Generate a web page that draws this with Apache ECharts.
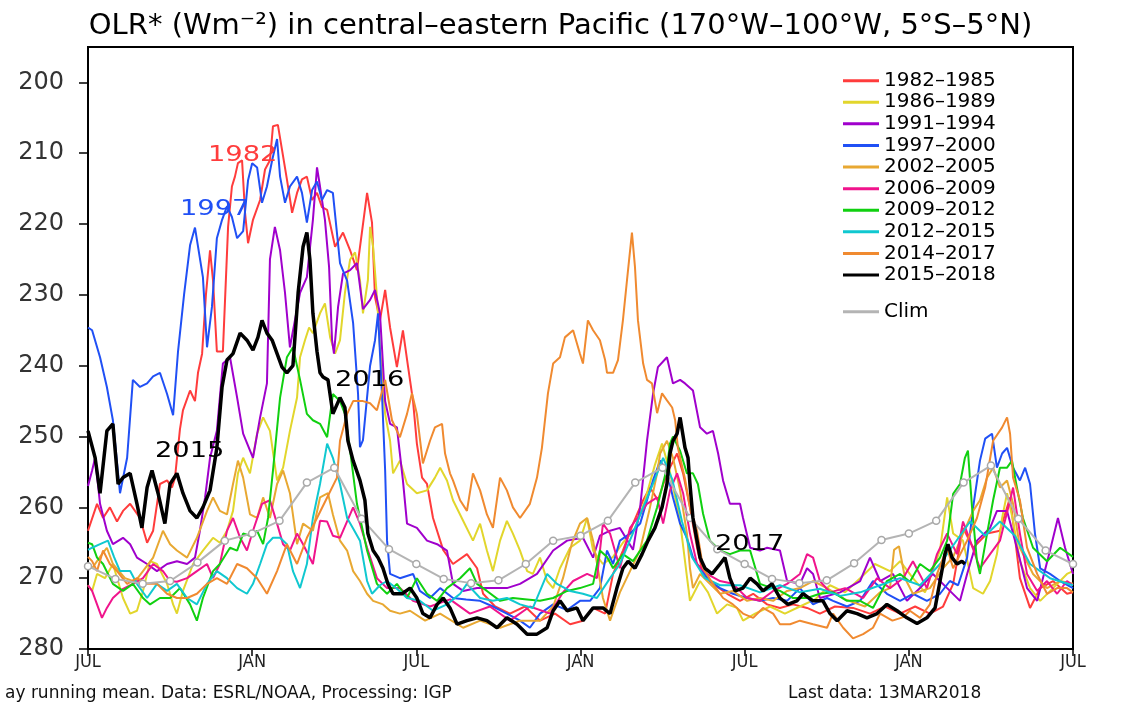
<!DOCTYPE html>
<html><head><meta charset="utf-8">
<script src="https://cdn.jsdelivr.net/npm/echarts@6/dist/echarts.min.js"></script>
<style>html,body{margin:0;padding:0;background:#fff}#c{width:1121px;height:702px}</style>
</head><body><div id="c"></div>
<script>
const xTickLabels = ['JUL','JAN','JUL','JAN','JUL','JAN','JUL'];
const yTicks = [200,210,220,230,240,250,260,270,280];
const seriesNames = ['1982–1985','1986–1989','1991–1994','1997–2000','2002–2005','2006–2009','2009–2012','2012–2015','2014–2017','2015–2018'];

const d1982 = [[0,263.3],[0.33,259.5],[0.55,261.5],[0.8,260],[1.06,262],[1.28,260.5],[1.54,259.5],[1.9,261.5],[2.16,265],[2.38,263.3],[2.63,256.7],[2.89,256.2],[3.07,257.2],[3.18,255.8],[3.36,249],[3.47,246.3],[3.73,243.5],[3.91,245],[4.02,241],[4.17,238.3],[4.31,230],[4.46,223.7],[4.57,228],[4.71,238],[4.93,238],[5.12,220.4],[5.26,214.7],[5.37,213.3],[5.48,211.4],[5.63,211],[5.74,218.4],[5.85,222.7],[6.03,219.4],[6.29,216.6],[6.47,212.3],[6.65,211],[6.76,206.2],[6.94,206],[7.09,209.5],[7.27,213.7],[7.46,218.4],[7.64,215.6],[7.82,213.7],[8.0,213.3],[8.19,216.6],[8.37,215.6],[8.55,217.6],[8.74,218],[9.03,223.2],[9.32,221.2],[9.58,223.7],[9.83,226.5],[10.01,221.2],[10.2,215.6],[10.38,219.8],[10.49,230.3],[10.67,233.6],[10.86,229.3],[11.04,234.6],[11.29,240.2],[11.51,235],[11.7,240.2],[11.88,245],[12.02,251],[12.21,255.8],[12.39,256.7],[12.61,261.5],[12.98,266],[13.34,268],[13.85,266.6],[14.22,268.6],[14.44,272.2],[14.88,274],[15.42,275],[15.97,274],[16.52,276],[17.07,275],[17.62,276.5],[18.09,276],[18.46,274.2],[18.9,275],[19.19,269.4],[19.55,266.1],[19.92,262.3],[20.29,259],[20.54,257.2],[20.83,259],[21.16,255.2],[21.53,252.4],[21.75,255.2],[22.0,260],[22.26,265.7],[22.48,269.4],[22.84,270.8],[23.36,272.2],[23.83,273.2],[24.31,272.2],[24.82,273.7],[25.29,274.2],[25.77,273.7],[26.28,274.2],[26.75,275],[27.3,274],[27.96,274.2],[28.58,275],[29.13,274],[29.68,275],[30.23,274],[30.77,275],[31.25,274],[31.62,270.8],[31.98,262.9],[32.35,265.7],[32.86,263.7],[33.33,263.3],[33.7,258.6],[33.88,264.3],[34.06,270],[34.43,274.2],[34.8,271.4],[35.27,270.4],[35.78,272.2],[36,272]];

const d1986 = [[0,271],[0.15,271.8],[0.33,269.4],[0.62,270],[0.91,268],[1.28,272.8],[1.54,275],[1.79,274.6],[2.01,271.8],[2.27,267.6],[2.52,268],[2.89,270.8],[3.11,273.7],[3.25,275],[3.47,271.8],[3.84,268],[4.2,266.1],[4.57,264.3],[4.82,265],[5.08,263.3],[5.3,260.5],[5.48,255.2],[5.67,253],[5.92,255.2],[6.18,249.6],[6.4,247.3],[6.65,249.2],[6.91,256.2],[7.13,254.4],[7.38,249.2],[7.64,244.5],[7.75,238.8],[7.93,236.4],[8.08,234.6],[8.22,235.4],[8.48,232.6],[8.66,231.2],[8.85,236],[9.03,238.3],[9.21,236.4],[9.39,229.7],[9.58,225],[9.76,224],[9.94,227.9],[10.05,232.6],[10.23,227.9],[10.31,220.4],[10.42,223.2],[10.56,230.3],[10.67,237.4],[10.86,246.8],[11.04,250.6],[11.15,255.2],[11.4,253.4],[11.66,256.7],[12.02,258],[12.39,257.6],[12.68,255.8],[12.87,254.4],[13.12,256.2],[13.34,259],[13.71,261.9],[14.07,264.7],[14.33,262.3],[14.58,266.1],[14.8,269],[15.06,264.7],[15.31,261.9],[15.53,263.7],[15.79,266.1],[16.05,269],[16.26,269.4],[16.52,267.1],[16.78,270.4],[17.0,271.4],[17.25,268.6],[17.62,265.7],[17.98,264.7],[18.24,261.5],[18.46,266.1],[18.82,268],[19.19,267],[19.55,265],[19.99,263],[20.36,259],[20.72,254],[20.98,251],[21.27,255],[21.64,262],[22.0,273.2],[22.37,270.4],[22.66,272],[22.99,275],[23.36,273.7],[23.72,274.2],[23.94,276],[24.38,275],[24.93,274],[25.47,275],[26.02,274],[26.57,273],[27.12,271],[27.67,272],[28.22,270],[28.76,268],[29.31,269],[29.68,267.6],[30.15,270],[30.59,272],[31.14,266],[31.4,258.6],[31.62,263.7],[31.98,264.7],[32.35,271.4],[32.71,272.2],[32.97,270.4],[33.22,266.6],[33.41,261.5],[33.59,258],[33.81,261.9],[34.06,267.6],[34.43,271.4],[34.8,273.2],[35.27,271.4],[35.78,269.4],[36,269]];

const d1991 = [[0,257],[0.15,254.8],[0.26,253],[0.44,259.5],[0.69,263.3],[0.91,265.2],[1.28,264.3],[1.54,265.2],[1.79,267.1],[2.16,268],[2.52,269],[2.89,268],[3.25,267.6],[3.62,268],[3.91,267.1],[4.09,263.3],[4.28,258.6],[4.46,253],[4.71,249.2],[4.93,239.7],[5.19,238.8],[5.45,244.5],[5.67,249.6],[6.03,253],[6.29,247.3],[6.54,242.5],[6.65,225],[6.83,220.4],[7.02,223.7],[7.2,229.7],[7.38,237.4],[7.75,229.7],[8.0,227.5],[8.22,219.4],[8.37,212],[8.48,214.7],[8.66,219.4],[8.81,226],[8.92,236.4],[8.99,238.3],[9.14,231.7],[9.32,227],[9.58,226.5],[9.83,225.5],[10.05,232],[10.31,230.7],[10.49,229.3],[10.67,232.6],[10.86,245],[11.04,248.2],[11.29,248.7],[11.51,256.2],[11.66,262.3],[12.02,262.9],[12.39,264.7],[12.76,265.2],[13.12,266.1],[13.34,270.8],[13.71,271.8],[14.22,271.4],[14.8,271.4],[15.31,271.4],[15.79,270.8],[16.41,269.4],[17.0,266.1],[17.51,264.7],[18.09,264.3],[18.46,267.1],[18.71,264],[19.08,263.3],[19.44,262.9],[19.92,266],[20.18,260],[20.43,250.6],[20.65,244],[20.83,240.2],[21.16,238.8],[21.38,242.5],[21.64,242],[21.82,242.5],[22.11,243.5],[22.37,248.7],[22.62,249.6],[22.84,249.2],[23.03,252.4],[23.21,256.2],[23.46,259.5],[23.83,259.5],[23.94,261.5],[24.2,265.7],[24.56,266.1],[24.82,265.7],[25.29,266.1],[25.55,270.4],[26.02,270.8],[26.28,268.6],[26.5,269.4],[26.75,272.8],[27.49,272],[28.22,270.4],[28.58,267.1],[28.95,270.4],[29.42,269.4],[29.93,273.2],[30.41,271.4],[30.88,269.4],[31.4,271.4],[31.87,273.2],[32.13,269.4],[32.49,264.7],[32.97,262.9],[33.22,260.5],[33.59,260.5],[33.95,265.7],[34.32,271.4],[34.69,273.2],[35.16,266.1],[35.45,261.5],[35.71,265.7],[36,269.4]];

const d1997 = [[0,234.6],[0.15,235],[0.44,238.8],[0.69,243],[0.91,247.7],[1.17,258],[1.43,253],[1.64,242],[1.9,243],[2.16,242.5],[2.38,241.5],[2.63,241],[2.89,244],[3.11,247],[3.29,238],[3.51,230],[3.73,223],[3.91,220.5],[4.2,227.5],[4.35,237.4],[4.53,231.7],[4.71,222],[4.9,219.4],[5.08,217.5],[5.26,219],[5.45,222],[5.67,221],[5.85,213.8],[6.0,211.4],[6.18,212],[6.36,217],[6.54,214.7],[6.73,211],[6.91,208],[7.02,213.3],[7.2,217],[7.38,214.7],[7.64,213.3],[7.82,215.6],[8.0,219.8],[8.19,215.2],[8.37,214],[8.55,216.6],[8.74,215.2],[8.95,215.6],[9.21,225.5],[9.47,228],[9.69,234],[9.87,244],[9.94,251.5],[10.05,250.5],[10.31,240],[10.49,236.4],[10.6,232.6],[10.75,244.5],[10.86,254.8],[10.93,264.7],[11.04,269.4],[11.4,270],[11.88,269.4],[12.13,271.8],[12.5,272.8],[12.87,271.4],[13.34,272.8],[13.82,273],[14.33,273.2],[14.8,274],[15.31,275],[15.79,276],[16.15,277],[16.52,275],[17.0,273.7],[17.51,274.5],[17.98,273.2],[18.35,273.2],[18.71,271.4],[18.97,266.1],[19.19,268],[19.44,264.7],[19.81,263.7],[20.18,262.3],[20.43,259],[20.65,256.2],[20.91,253.4],[21.16,255],[21.38,258.6],[21.64,262.3],[21.89,264.3],[22.11,267.1],[22.37,268.6],[22.73,270.4],[23.1,271.4],[23.57,272.2],[24.09,272.8],[24.56,273.2],[25.04,272.8],[25.55,273.2],[26.02,271.4],[26.5,273.7],[27.01,272.8],[27.23,273.2],[27.74,274],[28.22,273.2],[28.69,270.4],[29.2,272.2],[29.68,273.2],[30.15,272.2],[30.66,273.2],[31.14,272.2],[31.5,270.4],[31.8,271],[32.13,267.1],[32.35,260],[32.6,253.4],[32.79,250.3],[33.04,249.6],[33.22,254.4],[33.41,252.4],[33.59,251.6],[33.81,254.4],[34.06,256.2],[34.25,254.4],[34.43,256.7],[34.61,263.7],[34.8,268.6],[35.16,269.4],[35.53,270.4],[36,271.4]];

const d2002 = [[0,268],[0.15,268.6],[0.44,267],[0.69,265.7],[0.91,268],[1.35,270],[1.72,270.5],[2.01,269],[2.38,267.1],[2.74,263.3],[3.0,265.2],[3.25,266.1],[3.62,267.1],[3.98,264.3],[4.35,260.5],[4.57,258.6],[4.82,260.5],[5.08,261],[5.3,256.7],[5.48,253.4],[5.67,255.8],[5.92,261],[6.18,261.5],[6.4,258.6],[6.65,261.5],[6.91,256.7],[7.13,254.8],[7.38,258],[7.64,265.2],[7.86,262.3],[8.22,263.3],[8.48,258.6],[8.77,258],[8.95,261],[9.21,264.7],[9.47,266.1],[9.69,269],[9.94,270.4],[10.2,272.2],[10.42,273.2],[10.78,273.7],[11.04,274.6],[11.4,275],[11.77,274.6],[12.32,276],[12.87,275],[13.71,277],[14.33,276],[15.06,277],[15.79,276],[16.52,276],[17.0,274],[17.36,270],[17.69,265],[17.98,262.3],[18.24,261.5],[18.46,264.7],[18.82,272.8],[19.08,276],[19.44,272],[19.81,269],[20.18,266],[20.54,260],[20.8,255.2],[20.91,252.4],[21.16,250.6],[21.38,253],[21.64,257.6],[21.89,263.7],[22.0,268.6],[22.11,271.4],[22.37,269.4],[23.1,272.2],[23.57,271.8],[24.09,273.2],[24.56,272.8],[25.04,273.2],[25.55,271.8],[26.02,271.4],[26.5,270.4],[27.01,271.4],[27.67,273],[28.4,274],[28.95,272],[29.31,271.4],[29.46,266],[29.64,265.5],[29.86,270],[30.15,272.2],[30.77,271.4],[31.25,268.6],[31.62,267],[31.98,263.7],[32.35,260.5],[32.6,259],[32.86,255.8],[33.08,254.4],[33.33,257.2],[33.59,256.2],[33.81,259.5],[34.06,265.7],[34.54,269.4],[35.05,271.4],[35.53,270.4],[36,270.8]];

const d2006 = [[0,271],[0.15,271.8],[0.33,273.7],[0.51,275.6],[0.69,274.2],[0.91,272.8],[1.28,271.5],[1.64,270.8],[2.01,270],[2.38,268],[2.74,269],[3.0,270.4],[3.25,270.5],[3.62,270],[3.98,269],[4.35,268],[4.57,270],[4.82,268],[5.08,263.3],[5.3,261.5],[5.56,264.3],[5.81,266.1],[6.03,263.3],[6.36,259.5],[6.65,259],[6.91,262.3],[7.13,265.2],[7.38,266.1],[7.64,263.7],[7.86,265.2],[8.22,268],[8.48,261.9],[8.74,262],[8.95,264],[9.21,264.3],[9.69,260],[9.94,262.3],[10.2,265.7],[10.56,270],[10.93,271.4],[11.4,271.4],[11.88,273.2],[12.5,274],[13.23,273],[13.96,275],[14.69,274],[15.42,276],[16.15,274],[16.89,275],[17.36,272],[17.73,270.4],[18.24,269.4],[18.6,270],[18.82,262.3],[19.08,263.7],[19.44,268.6],[19.81,262.9],[20.18,261],[20.43,259.5],[20.8,258.6],[21.02,262.3],[21.27,257.6],[21.53,255.2],[21.75,258],[22.0,263.7],[22.26,268],[22.62,269.4],[23.1,270.4],[23.57,270.8],[24.09,272.8],[24.56,273.2],[25.04,271.8],[25.55,270.8],[26.02,269.4],[26.28,266.6],[26.5,267.1],[26.75,270.4],[27.12,272],[27.67,271.4],[28.33,272.8],[28.84,270],[29.31,271.4],[29.79,270],[30.15,267.6],[30.66,271.4],[31.03,266.6],[31.4,263.7],[31.76,266.6],[31.98,262],[32.24,264.7],[32.6,268.6],[32.97,266.6],[33.33,264.7],[33.7,259],[33.81,257.2],[34.06,263.7],[34.32,269.4],[34.69,271.8],[35.05,270.4],[35.42,272.2],[35.78,270.4],[36,271]];

const d2009 = [[0,265],[0.15,265.2],[0.33,267.1],[0.55,268],[0.91,270.8],[1.28,271.8],[1.64,270.8],[2.01,272.8],[2.27,273.7],[2.63,272.8],[3.0,272.8],[3.36,271.4],[3.73,273.7],[3.98,276],[4.2,272.8],[4.57,269],[4.82,268],[5.19,265.7],[5.45,266.1],[5.67,263.7],[5.92,264],[6.18,263.3],[6.4,265.2],[6.58,261.5],[6.76,254.8],[7.02,244.5],[7.27,238.8],[7.49,237.4],[7.75,242],[8.0,246.8],[8.22,247.7],[8.48,248.2],[8.74,250.1],[8.95,244],[9.21,245],[9.39,246.8],[9.58,252],[9.83,259.5],[10.2,266.1],[10.56,270.8],[10.93,272.2],[11.29,270.8],[11.66,272.8],[12.02,270],[12.39,272.2],[12.76,273.2],[13.12,271.4],[13.6,270],[13.96,268.6],[14.22,270.8],[14.58,271.8],[15.06,273.2],[15.53,272.8],[16.05,273],[16.52,273.2],[17.0,272.8],[17.51,271.8],[17.98,271.4],[18.46,270.8],[18.71,266.1],[18.97,267],[19.19,268.6],[19.55,266.6],[19.92,267.6],[20.43,264.7],[20.8,260],[21.16,254.4],[21.27,251],[21.38,250],[21.64,252],[21.89,255.2],[22.11,255.2],[22.29,256.7],[22.48,260.9],[22.73,264.7],[23.1,266.1],[23.46,266.6],[23.83,266.1],[24.2,266.1],[24.56,270.8],[25.29,271.8],[25.77,272.8],[26.28,272.8],[26.75,272.2],[27.23,272],[27.74,273.2],[28.22,273.2],[28.69,274.2],[29.2,270.4],[29.68,269.4],[30.04,270.5],[30.41,268],[30.77,269],[31.14,267.1],[31.4,264.7],[31.62,258.1],[31.87,256.7],[32.05,253],[32.16,252],[32.31,260],[32.49,267.6],[32.6,269.4],[32.86,263.7],[33.08,259],[33.33,254.4],[33.59,254.4],[33.77,253.4],[33.95,257.2],[34.17,261.5],[34.54,265.7],[35.05,267.6],[35.53,265.7],[36,267]];

const d2012 = [[0,266],[0.15,265.7],[0.44,265.2],[0.73,264.7],[0.95,267],[1.17,269],[1.54,269],[1.79,270.8],[2.16,272.8],[2.52,270.8],[2.89,271.8],[3.25,270.8],[3.62,272.8],[3.98,273.7],[4.35,270.8],[4.71,269],[5.08,270],[5.45,271.4],[5.81,272.2],[6.03,270.8],[6.29,268],[6.54,265.2],[6.76,264.3],[7.02,264.3],[7.27,265.2],[7.49,269],[7.75,271.4],[8.0,268],[8.22,261.5],[8.48,256.7],[8.74,251],[8.95,253],[9.21,256.7],[9.47,261.5],[9.69,263],[9.94,264.7],[10.2,270.4],[10.38,272.2],[10.67,271],[10.93,270.4],[11.29,271.5],[11.66,272.8],[12.13,273.2],[12.61,274.6],[13.12,273.7],[13.6,272.2],[13.85,270.8],[14.33,272.8],[14.8,273.2],[15.31,272.8],[15.79,273.7],[16.26,274.2],[16.78,269.4],[17.14,270.8],[17.62,271.8],[18.09,272.2],[18.6,272.8],[19.08,270],[19.44,268],[19.88,264],[20.29,260],[20.72,256],[21.02,253],[21.35,256],[21.71,262],[22.07,267],[22.55,270],[23.1,271],[23.83,271],[24.56,272],[25.29,271],[26.02,272],[26.75,271.5],[27.49,272.5],[28.22,272],[28.95,271],[29.68,270],[30.41,271],[31.14,268],[31.69,265],[32.24,262],[32.79,264],[33.33,262],[33.88,264],[34.43,268],[35.16,270],[36,271]];

const d2014 = [[0,267],[0.15,267.6],[0.33,269],[0.55,266.1],[0.8,268],[1.06,269],[1.43,270.8],[1.79,270],[2.16,270.8],[2.52,270.8],[2.89,272.2],[3.25,272.8],[3.62,272.8],[3.98,272.2],[4.35,270.8],[4.71,270],[5.08,270.8],[5.45,268],[5.81,268.6],[6.18,270],[6.54,272.2],[6.91,269],[7.27,265.2],[7.64,268],[8.0,264.3],[8.37,261.5],[8.74,258.6],[9.1,255.8],[9.21,250.6],[9.47,246.8],[9.69,245],[10.05,245],[10.31,245.3],[10.56,246.3],[10.86,242],[11.11,247.7],[11.4,250.1],[11.66,246.8],[11.84,243.9],[12.02,246.8],[12.24,253.8],[12.5,250.6],[12.68,248.7],[12.94,248.2],[13.05,252.4],[13.23,255.2],[13.34,256.2],[13.6,259],[13.85,260.5],[14.07,255.2],[14.33,257.6],[14.58,261],[14.8,262.9],[15.06,255.8],[15.31,257.6],[15.53,260],[15.79,261.5],[16.15,259.5],[16.41,255.8],[16.59,251.6],[16.81,243.9],[17.0,239.7],[17.25,238.8],[17.43,236],[17.73,235],[17.98,238.3],[18.09,239.7],[18.27,233.6],[18.46,235],[18.71,236.4],[18.9,239.2],[18.97,241],[19.19,241],[19.37,239.2],[19.55,233.6],[19.7,227.9],[19.88,221.2],[19.99,226],[20.1,233.6],[20.29,239.7],[20.43,242],[20.61,242.5],[20.8,246.7],[20.98,243.9],[21.16,244.9],[21.35,245.9],[21.46,247.7],[21.56,251.6],[21.82,256],[22.0,260],[22.26,263.3],[22.48,268.6],[22.84,270.8],[23.21,272.8],[23.57,273.7],[23.94,275],[24.31,275.6],[24.67,274.2],[25.04,275],[25.29,276.5],[25.66,276.5],[26.02,276],[26.5,276.5],[27.01,277],[27.23,275],[27.6,277],[27.96,278.5],[28.33,277.9],[28.69,277],[28.95,275],[29.4,276],[29.8,275.5],[30.04,274.6],[30.41,275.6],[30.77,273.7],[31.03,269.4],[31.4,265.7],[31.62,268.6],[32.13,264.7],[32.49,261.5],[32.79,257.2],[33.08,250.6],[33.41,248.7],[33.59,247.3],[33.7,249.6],[33.81,255.8],[34.06,259],[34.32,265.7],[34.69,269.4],[35.05,272.2],[35.42,271.4],[35.78,271.4],[36,272]];

const d2015 = [[0,249.2],[0.26,253],[0.44,258],[0.69,249.2],[0.91,248.2],[1.1,256.7],[1.28,255.8],[1.54,255.2],[1.79,259.5],[1.97,262.9],[2.16,257.2],[2.34,254.8],[2.56,258],[2.81,262.3],[3.0,256.7],[3.25,255.2],[3.47,258],[3.73,260.5],[3.98,261.5],[4.2,260],[4.46,257.6],[4.71,251.6],[4.9,243],[5.08,239.2],[5.3,238.3],[5.56,235.4],[5.81,236.4],[6.03,237.8],[6.21,236],[6.36,233.6],[6.54,235.4],[6.73,236.4],[6.91,238.3],[7.09,240.2],[7.27,241],[7.49,240],[7.68,229.7],[7.86,223.2],[8.0,221.2],[8.11,225],[8.22,232.6],[8.37,238],[8.48,241],[8.59,241.6],[8.77,242],[8.95,246.8],[9.21,244.5],[9.39,245.9],[9.5,250.6],[9.69,253.4],[9.94,256.2],[10.12,259],[10.23,263.7],[10.42,266.1],[10.6,267.1],[10.78,268.6],[10.96,270.8],[11.15,272.2],[11.48,272.2],[11.77,271.4],[12.02,272.8],[12.24,275],[12.5,275.6],[12.76,273.7],[12.98,272.8],[13.23,274.2],[13.49,276.5],[13.85,276],[14.22,275.6],[14.58,276],[14.95,277],[15.31,275.6],[15.68,276.5],[16.05,277.9],[16.41,277.9],[16.78,277],[17.0,274.6],[17.25,273.2],[17.51,274.6],[17.87,274.2],[18.09,276],[18.46,274.2],[18.82,274.2],[19.08,275],[19.33,271.4],[19.55,268.6],[19.74,267.6],[19.99,268.6],[20.25,266.6],[20.47,264.7],[20.72,262.9],[20.98,260],[21.16,256.7],[21.27,252.4],[21.38,250.6],[21.53,249.6],[21.64,247.3],[21.82,251.6],[21.93,253],[22.0,256.7],[22.11,261.5],[22.26,264.7],[22.37,267.1],[22.55,268.6],[22.81,269.4],[23.1,268],[23.28,267.1],[23.46,270],[23.65,271.8],[23.94,271.4],[24.2,270],[24.45,270.8],[24.67,271.8],[25.0,270.8],[25.29,272.8],[25.58,273.7],[25.91,273.2],[26.13,272.2],[26.5,273.2],[26.86,273.2],[27.12,275],[27.38,276],[27.74,274.6],[28.11,275],[28.47,275.6],[28.84,275],[29.2,273.7],[29.57,274.6],[29.93,275.6],[30.3,276.4],[30.66,275.6],[30.96,274.2],[31.14,270.4],[31.32,266.6],[31.43,265.2],[31.58,267.1],[31.76,268],[31.94,267.6],[32.05,268]];

const climValues = [268.3,270.1,270.8,270.4,267.8,264.7,263.7,261.9,256.5,254.4,261.6,265.9,268,270.1,270.7,270.3,268,264.7,264,261.9,256.5,254.4,261.5,265.9,268,270.1,270.7,270.3,267.9,264.6,263.7,261.9,256.5,254.1,261.6,266.1,268];

const seriesData = [d1982,d1986,d1991,d1997,d2002,d2006,d2009,d2012,d2014,d2015];
const seriesColors = ['#ff3c3c','#e2d62c','#a000cc','#2050f5','#e8a832','#f0148c','#10d010','#10c8d0','#f08a30','#000000'];
const climColor = '#b4b4b4';

const chart = echarts.init(document.getElementById('c'), null, {renderer:'canvas'});
const series = [];
for (let i = 0; i < 9; i++) {
  series.push({name: seriesNames[i], type:'line', data: seriesData[i], symbol:'none', smooth:false,
    color: seriesColors[i], lineStyle:{width:2, color: seriesColors[i]}, z: 2 + i});
}
series.push({name:'Clim', type:'line', data: climValues.map((v,k)=>[k,v]), symbol:'circle', symbolSize:7, showAllSymbol:true,
  color: climColor, lineStyle:{width:2,color:climColor}, itemStyle:{color:'#fff', borderColor:'#a8a8a8', borderWidth:1.5}, z: 12});
series.push({name: seriesNames[9], type:'line', data: seriesData[9], symbol:'none', smooth:false,
  color: seriesColors[9], lineStyle:{width:3.5, color: seriesColors[9]}, z: 14});

const annText = (t, x, y, c) => ({type:'text', left:x, top:y, scaleX:1.3, z:20,
  style:{text:t, font:'21px "DejaVu Sans"', fill:c}});

chart.setOption({
  animation:false,
  backgroundColor:'#fff',
  title:[
    {text:'OLR* (Wm⁻²) in central–eastern Pacific (170°W–100°W, 5°S–5°N)', left:'center', top:7,
      textStyle:{fontFamily:'DejaVu Sans', fontSize:29, fontWeight:'normal', color:'#000'}},
    {text:'ay running mean. Data: ESRL/NOAA, Processing: IGP', left:0, top:680,
      textStyle:{fontFamily:'DejaVu Sans', fontSize:17, fontWeight:'normal', color:'#111'}},
    {text:'Last data: 13MAR2018', left:783, top:680,
      textStyle:{fontFamily:'DejaVu Sans', fontSize:17, fontWeight:'normal', color:'#111'}}
  ],
  legend:[
    {data: seriesNames, orient:'vertical', left:838, top:65, icon:'rect', itemWidth:36, itemHeight:3, itemGap:0.3,
      textStyle:{fontFamily:'DejaVu Sans', fontSize:20, lineHeight:21.3, color:'#000'}, selectedMode:false},
    {data: [{name:'Clim', itemStyle:{color:climColor, borderWidth:0}}], orient:'vertical', left:838, top:296, icon:'rect', itemWidth:36, itemHeight:3,
      textStyle:{fontFamily:'DejaVu Sans', fontSize:20, lineHeight:21.3, color:'#000'}, selectedMode:false}
  ],
  grid:{left:88, right:48, top:47, bottom:53, show:true, borderColor:'#000', borderWidth:2, backgroundColor:'transparent'},
  xAxis:{type:'value', min:0, max:36, interval:6,
    axisLine:{show:true, lineStyle:{color:'#000', width:2}},
    axisTick:{show:true, length:7, lineStyle:{color:'#000', width:1.5}},
    axisLabel:{formatter:(v)=>xTickLabels[Math.round(v/6)], fontFamily:'"Liberation Sans Narrow", "DejaVu Sans Condensed", sans-serif', fontSize:18, color:'#222', margin:4},
    splitLine:{show:false}},
  yAxis:{type:'value', inverse:true, min:195, max:280,
    axisLine:{show:true, lineStyle:{color:'#000', width:2}},
    axisTick:{show:true, length:9, customValues: yTicks, lineStyle:{color:'#000', width:1.5}},
    axisLabel:{customValues: yTicks, fontFamily:'DejaVu Sans', fontSize:24, color:'#333', margin:24},
    splitLine:{show:false}},
  graphic:[
    annText('1982', 208, 145, '#ff3c3c'),
    annText('1997', 180, 199, '#2050f5'),
    annText('2015', 155, 441, '#000'),
    annText('2016', 335, 370, '#000'),
    annText('2017', 715, 534, '#000')
  ],
  series: series
});
</script></body></html>
